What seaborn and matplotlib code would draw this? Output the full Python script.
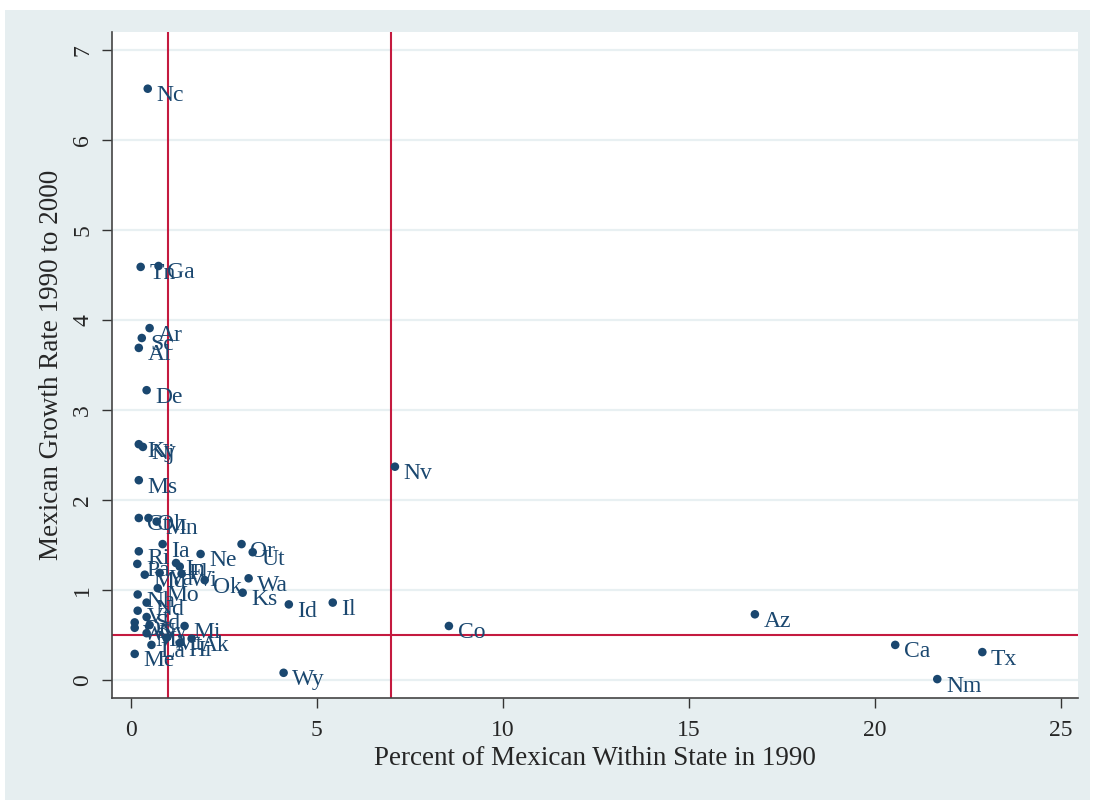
import matplotlib
matplotlib.use("Agg")
import matplotlib.pyplot as plt
import seaborn as sns
import pandas as pd

states = ["Nc", "Tn", "Ga", "Ar", "Sc", "Al", "De", "Ky", "Nj", "Ms",
          "Ct", "Oh", "Mn", "Ia", "Ri", "Ne", "Or", "Ut", "Pa", "In",
          "Fl", "Md", "Va", "Wi", "Ok", "Wa", "Ks", "Id", "Il", "Mo",
          "Nh", "Nd", "Vt", "Sd", "Dc", "Wv", "Ny", "Ma", "Mi", "Mt",
          "Ak", "Hi", "La", "Me", "Co", "Az", "Ca", "Tx", "Nm", "Wy", "Nv"]
pct_mexican_1990 = [0.46, 0.27, 0.75, 0.51, 0.30, 0.22, 0.43, 0.22, 0.33, 0.22,
                    0.22, 0.48, 0.70, 0.86, 0.22, 1.88, 2.98, 3.28, 0.18, 1.22,
                    1.32, 0.38, 0.78, 1.37, 1.99, 3.17, 3.01, 4.25, 5.43, 0.73,
                    0.19, 0.43, 0.19, 0.43, 0.11, 0.11, 0.51, 0.43, 1.45, 0.97,
                    1.64, 1.32, 0.56, 0.11, 8.55, 16.77, 20.54, 22.88, 21.67, 4.11, 7.10]
growth_1990_2000 = [6.57, 4.59, 4.60, 3.91, 3.80, 3.69, 3.22, 2.62, 2.59, 2.22,
                    1.80, 1.80, 1.76, 1.51, 1.43, 1.40, 1.51, 1.42, 1.29, 1.30,
                    1.26, 1.17, 1.19, 1.18, 1.11, 1.13, 0.97, 0.84, 0.86, 1.02,
                    0.95, 0.86, 0.77, 0.70, 0.64, 0.58, 0.61, 0.52, 0.60, 0.47,
                    0.46, 0.41, 0.39, 0.29, 0.60, 0.73, 0.39, 0.31, 0.01, 0.08, 2.37]

ref_x = [1, 7]
ref_y = [0.5]
x_ticks = [0, 5, 10, 15, 20, 25]
y_ticks = [0, 1, 2, 3, 4, 5, 6, 7]

df = pd.DataFrame({"state": states, "pct": pct_mexican_1990, "growth": growth_1990_2000})

sns.set_style("white")
plt.rcParams["font.family"] = ["Liberation Serif", "DejaVu Serif"]

W, H = 1094, 805
fig = plt.figure(figsize=(W / 100, H / 100), dpi=100)
fig.patch.set_facecolor("white")
bg = fig.add_axes([5 / W, 5 / H, 1085 / W, 790 / H], zorder=-5)
bg.set_facecolor("#e6eef0")
bg.set_xticks([])
bg.set_yticks([])
for sp in bg.spines.values():
    sp.set_visible(False)

ax = fig.add_axes([112 / W, 1 - 698 / H, (1078 - 112) / W, (698 - 32) / H], zorder=1)
ax.set_facecolor("white")

navy = "#1a476f"
red = "#c41a3f"

for yt in y_ticks:
    ax.axhline(yt, color="#e8f0f2", lw=1.6, zorder=1)

for xv in ref_x:
    ax.axvline(xv, color=red, lw=1.5, zorder=2)
for yv in ref_y:
    ax.axhline(yv, color=red, lw=1.5, zorder=2)

sns.scatterplot(data=df, x="pct", y="growth", ax=ax, color=navy, s=38,
                edgecolor="none", zorder=3, legend=False)

for s, xv, yv in zip(states, pct_mexican_1990, growth_1990_2000):
    ax.annotate(s, (xv, yv), xytext=(6.2, -5), textcoords="offset points",
                ha="left", va="center", fontsize=17, color=navy, zorder=4)

ax.set_xlim(-0.5, 25.45)
ax.set_ylim(-0.2, 7.2)
ax.set_xticks(x_ticks)
ax.set_yticks(y_ticks)
ax.tick_params(axis="both", which="both", direction="out", length=7.5, width=1.0,
               color="#333333", labelsize=17, left=True, bottom=True)
ax.tick_params(axis="x", pad=8)
ax.tick_params(axis="y", pad=6)
for lab in ax.get_yticklabels():
    lab.set_rotation(90)
    lab.set_va("center")

for sp in ["top", "right"]:
    ax.spines[sp].set_visible(False)
for sp in ["left", "bottom"]:
    ax.spines[sp].set_color("#444444")
    ax.spines[sp].set_linewidth(1.2)

ax.set_xlabel("Percent of Mexican Within State in 1990", fontsize=19.5, labelpad=4)
ax.set_ylabel("Mexican Growth Rate 1990 to 2000", fontsize=19.5, labelpad=6)

fig.savefig("out.png", dpi=100, facecolor=fig.get_facecolor())
